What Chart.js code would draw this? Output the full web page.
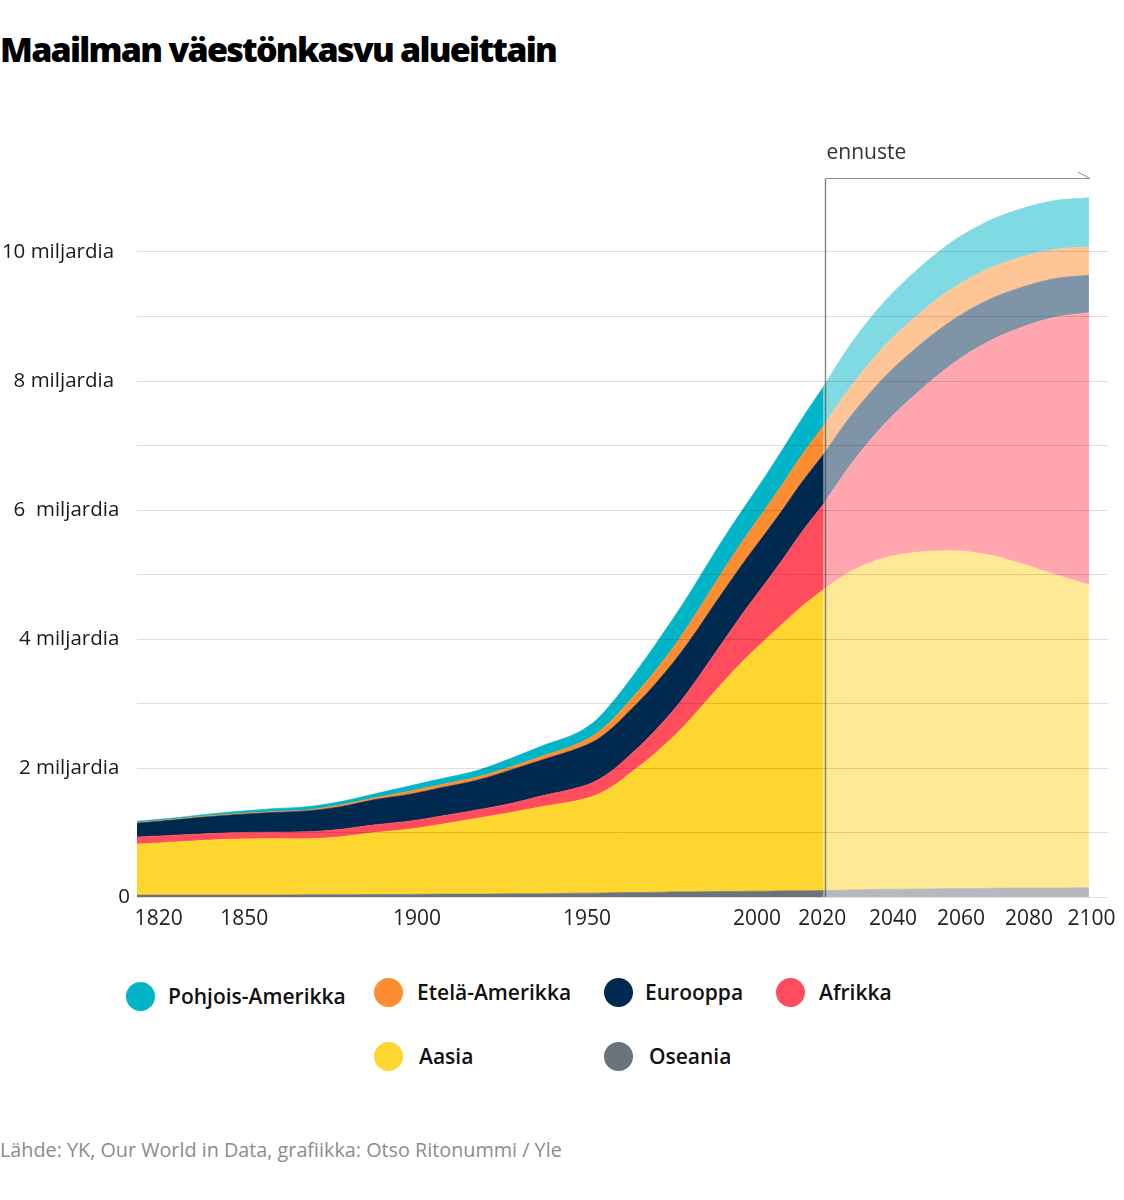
<!DOCTYPE html>
<html lang="fi">
<head>
<meta charset="utf-8">
<script src="https://cdn.jsdelivr.net/npm/chart.js@4.4.1/dist/chart.umd.min.js"></script>
<style>
html,body{margin:0;padding:0;background:#fff;}
body{width:1124px;height:1200px;position:relative;overflow:hidden;font-family:"Open Sans",sans-serif;}
#title{position:absolute;left:0;top:27px;font-size:34px;font-weight:800;color:#000;white-space:nowrap;line-height:44px;display:inline-block;}
#chartWrap{position:absolute;left:0;top:100px;width:1124px;height:850px;}
.dot{position:absolute;width:29px;height:29px;border-radius:50%;}
.legtxt{position:absolute;font-size:21px;font-weight:600;color:#111;white-space:nowrap;line-height:28px;}
#source{position:absolute;left:0;top:1136px;font-size:19.8px;color:#8c8c8c;white-space:nowrap;line-height:28px;}
</style>
</head>
<body>
<div id="title">Maailman väestönkasvu alueittain</div>
<div id="chartWrap"><canvas id="c" width="1124" height="850"></canvas></div>
<div id="legend"></div>
<div id="source">Lähde: YK, Our World in Data, grafiikka: Otso Ritonummi / Yle</div>
<script>
// ---------- DATA (billions) ----------
const regionNames = ['Oseania','Aasia','Afrikka','Eurooppa','Etelä-Amerikka','Pohjois-Amerikka'];

const histYears = [1820,1830,1840,1850,1860,1870,1880,1890,1900,1910,1920,1930,1940,1950,1955,1960,1965,1970,1975,1980,1985,1990,1995,2000,2005,2010,2015,2022];
const histOseania = [0.03,0.03,0.03,0.03,0.03,0.035,0.035,0.04,0.04,0.045,0.045,0.05,0.05,0.06,0.06,0.065,0.07,0.07,0.075,0.08,0.08,0.085,0.085,0.09,0.09,0.095,0.095,0.10];
const histAasia = [0.79,0.82,0.85,0.87,0.875,0.87,0.90,0.96,1.01,1.085,1.175,1.26,1.36,1.44,1.52,1.655,1.85,2.05,2.275,2.52,2.81,3.105,3.395,3.66,3.91,4.145,4.385,4.67];
const histAfrikka = [0.11,0.105,0.10,0.10,0.10,0.105,0.115,0.12,0.125,0.13,0.13,0.14,0.17,0.20,0.22,0.25,0.28,0.33,0.38,0.44,0.51,0.59,0.68,0.78,0.88,1.00,1.14,1.33];
const histEurooppa = [0.215,0.235,0.26,0.28,0.305,0.325,0.35,0.39,0.415,0.44,0.46,0.52,0.56,0.61,0.63,0.66,0.69,0.71,0.73,0.75,0.76,0.77,0.77,0.77,0.77,0.77,0.77,0.77];
const histEtelaAmerikka = [0.01,0.01,0.015,0.015,0.015,0.015,0.03,0.03,0.05,0.05,0.05,0.05,0.06,0.075,0.10,0.13,0.16,0.19,0.22,0.25,0.28,0.31,0.34,0.36,0.38,0.40,0.42,0.44];
const histPohjoisAmerikka = [0.02,0.02,0.025,0.035,0.045,0.05,0.05,0.06,0.08,0.09,0.10,0.13,0.16,0.175,0.21,0.27,0.32,0.38,0.43,0.46,0.48,0.49,0.49,0.49,0.51,0.54,0.56,0.61];

const projYears = [2022,2030,2040,2050,2060,2070,2080,2090,2100];
const projOseania = [0.10,0.11,0.12,0.125,0.13,0.135,0.14,0.14,0.145];
const projAasia = [4.67,4.94,5.14,5.225,5.24,5.175,5.03,4.86,4.695];
const projAfrikka = [1.33,1.66,2.08,2.49,2.90,3.29,3.66,3.99,4.22];
const projEurooppa = [0.77,0.75,0.73,0.71,0.68,0.65,0.62,0.60,0.58];
const projEtelaAmerikka = [0.44,0.46,0.48,0.49,0.49,0.48,0.47,0.45,0.44];
const projPohjoisAmerikka = [0.61,0.66,0.69,0.71,0.73,0.74,0.75,0.76,0.76];

const xTickYears = [1820,1850,1900,1950,2000,2020,2040,2060,2080,2100];
const yTickValues = [0,2,4,6,8,10];
const yTickLabels = ['0','2 miljardia','4 miljardia','6  miljardia','8 miljardia','10 miljardia'];
const forecastStart = 2022;
const forecastLabel = 'ennuste';

// ---------- STYLE ----------
const regionColors = ['rgb(107,115,123)','rgb(255,213,48)','rgb(255,77,94)','rgb(0,41,80)','rgb(252,141,48)','rgb(0,181,200)'];
const regionLight  = ['rgb(181,185,189)','rgb(255,233,151)','rgb(255,166,174)','rgb(127,148,167)','rgb(254,198,151)','rgb(128,218,228)'];
const yLabelTrail = {0:0,2:2,4:2,6:2,8:3,10:3};
const xLabelLead = {1820:5};
const xLabelTrail = {1850:1,2020:1,2100:2};

const histSeries = [histOseania,histAasia,histAfrikka,histEurooppa,histEtelaAmerikka,histPohjoisAmerikka];
const projSeries = [projOseania,projAasia,projAfrikka,projEurooppa,projEtelaAmerikka,projPohjoisAmerikka];

function mkSet(years, vals, i, stack, colors){
  return {
    label: regionNames[i], stack: stack,
    data: years.map((yr,k)=>({x:yr,y:vals[k]})),
    backgroundColor: colors[i], borderColor: colors[i], borderWidth: 0.6,
    pointRadius: 0, pointHoverRadius: 0,
    fill: i===0 ? 'origin' : '-1',
    cubicInterpolationMode: 'monotone'
  };
}
const datasets = [];
histSeries.forEach((s,i)=>datasets.push(mkSet(histYears,s,i,'hist',regionColors)));
projSeries.forEach((s,i)=>datasets.push(mkSet(projYears,s,i,'proj',regionLight)));

const ennustePlugin = {
  id:'ennuste',
  afterDatasetsDraw(chart){
    const {ctx, scales:{x,y}} = chart;
    const x0 = Math.round(x.getPixelForValue(forecastStart))+1.5;
    const x1 = x.getPixelForValue(projYears[projYears.length-1]);
    const yTop = Math.round(y.getPixelForValue(11.15))+0.5;
    const yBot = y.getPixelForValue(0);
    ctx.save();
    ctx.strokeStyle='rgba(60,60,60,0.6)'; ctx.lineWidth=1.5;
    ctx.beginPath(); ctx.moveTo(x0,yBot); ctx.lineTo(x0,yTop); ctx.stroke();
    ctx.strokeStyle='#8c8c8c'; ctx.lineWidth=1;
    ctx.beginPath(); ctx.moveTo(x0,yTop); ctx.lineTo(x1+1,yTop); ctx.lineTo(x1-11,yTop-6.5); ctx.stroke();
    ctx.fillStyle='#333'; ctx.font='21px "Open Sans"'; ctx.textAlign='left'; ctx.textBaseline='alphabetic';
    ctx.fillText(forecastLabel, x0+1, yTop-20);
    ctx.restore();
  }
};

function buildLegend(){
  const layout = [
    {i:5, cx:140, cy:996, tx:168},
    {i:4, cx:388, cy:992, tx:417},
    {i:3, cx:618, cy:992, tx:645},
    {i:2, cx:790, cy:992, tx:819},
    {i:1, cx:388, cy:1056, tx:419},
    {i:0, cx:618, cy:1056, tx:649}
  ];
  const leg = document.getElementById('legend');
  layout.forEach(l=>{
    const d=document.createElement('div'); d.className='dot';
    d.style.left=(l.cx-14.5)+'px'; d.style.top=(l.cy-14.5)+'px'; d.style.background=regionColors[l.i];
    leg.appendChild(d);
    const t=document.createElement('div'); t.className='legtxt';
    t.textContent=regionNames[l.i]; t.style.left=l.tx+'px'; t.style.top=(l.cy-14)+'px';
    leg.appendChild(t);
  });
}

function fitTitle(){
  const t=document.getElementById('title');
  const w=t.getBoundingClientRect().width;
  const n=t.textContent.length;
  t.style.letterSpacing=((556-w)/n)+'px';
}

function draw(){
  fitTitle();
  buildLegend();
  new Chart(document.getElementById('c'), {
    type:'line',
    data:{datasets},
    plugins:[ennustePlugin],
    options:{
      responsive:false, animation:false, devicePixelRatio:1,
      layout:{padding:{top:23,right:16,left:0,bottom:0}},
      plugins:{legend:{display:false}, tooltip:{enabled:false}},
      scales:{
        x:{
          type:'linear', min:1820, max:2105.6,
          grid:{display:false}, border:{display:false},
          afterBuildTicks:(s)=>{ s.ticks = xTickYears.map(v=>({value:v})); },
          afterFit:(s)=>{ s.height = 53; s.paddingLeft = 0; s.paddingRight = 0; },
          ticks:{
            autoSkip:false, maxRotation:0, padding:1, labelOffset:8,
            color:'#222', font:{family:'"Open Sans"', size:21},
            callback:(v)=> ' '.repeat(xLabelLead[v]||0) + String(v) + ' '.repeat(xLabelTrail[v]||0)
          }
        },
        y:{
          stacked:true, min:0, max:12,
          border:{display:false},
          grid:{color:'rgba(0,0,0,0.13)', lineWidth:1, drawTicks:false, z:1},
          afterBuildTicks:(s)=>{ const t=[]; for(let v=0; v<=10; v++) t.push({value:v}); s.ticks=t; },
          afterFit:(s)=>{ s.width = 137; },
          ticks:{
            padding:7, color:'#1a1a1a', font:{family:'"Open Sans"', size:20.5},
            callback:(v)=>{ const k=yTickValues.indexOf(v); return k<0 ? '' : yTickLabels[k]+' '.repeat(yLabelTrail[v]); }
          }
        }
      }
    }
  });
}

Promise.all([
  document.fonts.load('21px "Open Sans"'),
  document.fonts.load('600 21px "Open Sans"'),
  document.fonts.load('800 34px "Open Sans"')
]).then(draw, draw);
</script>
</body>
</html>
